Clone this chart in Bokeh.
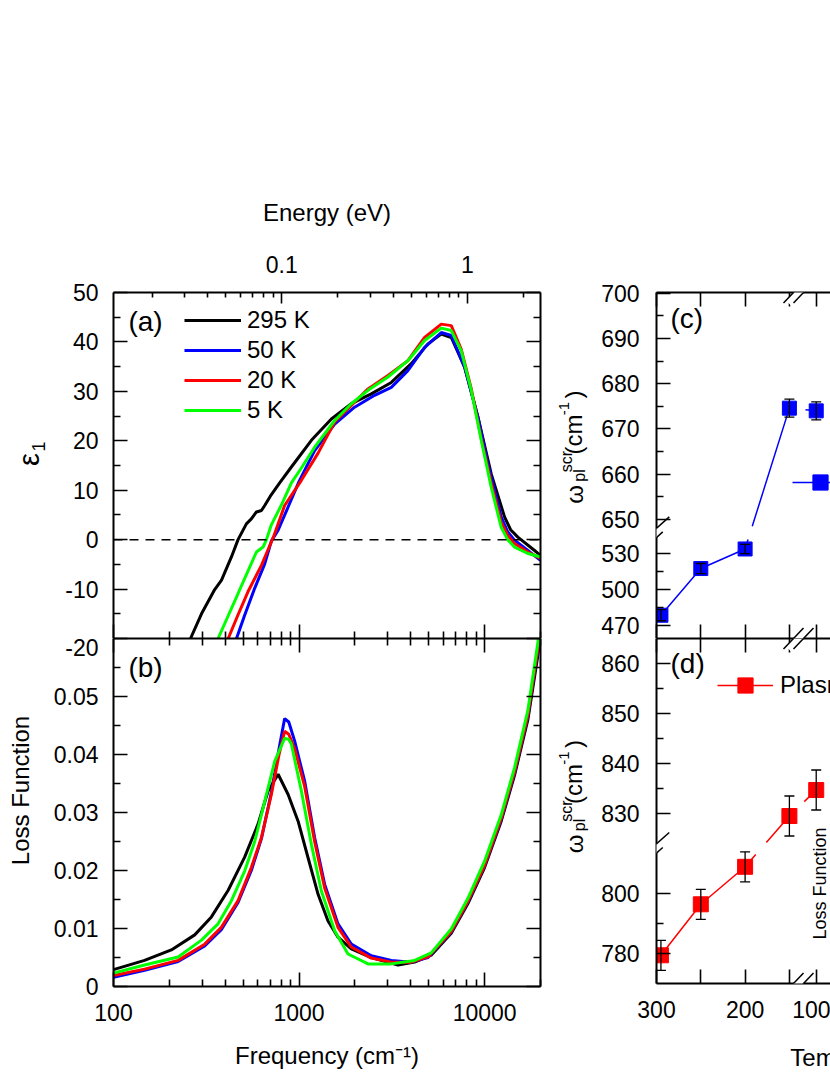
import math
from bokeh.plotting import figure
from bokeh.layouts import row, column
from bokeh.models import (Range1d, LogScale, LinearAxis, FixedTicker, Legend, LegendItem,
                          Span, Label, Arrow, Whisker, TeeHead, ColumnDataSource)
from bokeh.core.properties import value
from bokeh.embed import file_html
from bokeh.resources import INLINE

FONT = "Liberation Sans"
CM_PER_EV = 8065.54

# ---------------- data ----------------
series_labels = ["295 K", "50 K", "20 K", "5 K"]
series_colors = ["#000000", "#0000ff", "#ff0000", "#00ff00"]

# panel (a): epsilon_1 vs frequency (cm-1)
eps_freq_295 = [260, 298, 351, 382, 432, 469, 520, 553, 589, 627, 653, 700, 786, 909, 1165, 1493,
                1912, 2450, 3141, 4024, 4950, 5838, 6609, 7800, 9204, 10851, 12800, 13800, 15100, 18580, 20000]
eps_295 = [-20.0, -15.0, -10.1, -8.2, -3.5, 0.0, 3.2, 4.2, 5.6, 5.9, 6.9, 8.8, 11.5, 14.7, 20.1, 24.4,
           27.5, 29.5, 31.8, 35.6, 39.6, 41.6, 40.9, 34.9, 24.8, 13.3, 4.6, 2.0, 0.5, -2.2, -3.2]
eps_freq_50 = [460, 509, 577, 653, 709, 771, 873, 1000, 1213, 1555, 1991, 2553, 3141, 3858, 4748,
               5838, 6609, 7800, 9204, 10416, 12285, 13300, 14487, 17100, 20000]
eps_50 = [-20.0, -15.3, -9.8, -4.9, -0.3, 1.9, 6.6, 11.8, 18.0, 23.4, 26.8, 29.2, 30.8, 34.2, 38.9,
          41.9, 41.3, 34.9, 24.8, 15.4, 4.6, 1.6, -0.1, -2.2, -4.2]
eps_freq_20 = [415, 469, 531, 627, 681, 727, 836, 1029, 1266, 1555, 2352, 3013, 3858, 4748, 5838,
               6609, 7482, 8472, 9587, 10851, 12285, 13300, 14487, 17100, 20000]
eps_20 = [-20.0, -15.2, -10.5, -5.2, -2.0, 0.5, 6.9, 12.0, 17.5, 23.8, 30.5, 33.2, 36.2, 40.9, 43.6,
          43.3, 38.5, 30.5, 20.5, 11.5, 3.5, 0.9, -0.8, -2.5, -3.8]
eps_freq_5 = [366, 415, 469, 531, 589, 640, 667, 709, 803, 909, 1029, 1213, 1555, 1912, 2352, 3013,
              3858, 4748, 5838, 6609, 7482, 8472, 9587, 10851, 12285, 13300, 14487, 17100, 20000]
eps_5 = [-20.0, -15.4, -10.9, -6.3, -2.5, -1.5, 0.0, 3.0, 7.0, 11.5, 14.5, 18.7, 24.1, 27.5, 30.2,
         32.9, 36.2, 40.3, 42.8, 42.3, 38.2, 30.2, 20.1, 10.6, 2.5, 0.0, -1.5, -2.8, -3.5]

# panel (b): loss function vs frequency (cm-1)
lf_freq_295 = [100, 147, 205, 274, 337, 415, 509, 601, 681, 771, 873, 988, 1118, 1266, 1432, 1621,
               1912, 2450, 3415, 4195, 5153, 6609, 8128, 9990, 12285, 14487, 17100, 19300, 20000]
lf_295 = [0.0029, 0.0045, 0.0063, 0.0089, 0.0120, 0.0166, 0.0223, 0.0280, 0.0337, 0.0366, 0.0331,
          0.0285, 0.0222, 0.0159, 0.0113, 0.0085, 0.0065, 0.0050, 0.0037, 0.0042, 0.0054, 0.0092,
          0.0143, 0.0205, 0.0285, 0.0364, 0.0460, 0.0568, 0.0610]
lf_freq_50 = [100, 147, 223, 310, 381, 469, 553, 627, 709, 780, 836, 880, 947, 1072, 1213, 1374, 1621,
              1912, 2450, 3141, 4024, 4950, 6609, 8128, 9990, 12285, 14487, 17100, 19300, 20000]
lf_50 = [0.0016, 0.0028, 0.0043, 0.0070, 0.0098, 0.0145, 0.0200, 0.0255, 0.0335, 0.0410, 0.0462,
         0.0456, 0.0423, 0.0354, 0.0257, 0.0176, 0.0108, 0.0073, 0.0053, 0.0045, 0.0042, 0.0050,
         0.0094, 0.0146, 0.0208, 0.0288, 0.0368, 0.0466, 0.0577, 0.0617]
lf_freq_20 = [100, 147, 223, 310, 381, 469, 553, 627, 709, 780, 836, 880, 947, 1072, 1213, 1374, 1621,
              1912, 2450, 3141, 4024, 4950, 6609, 8128, 9990, 12285, 14487, 17100, 19300, 20000]
lf_20 = [0.0019, 0.0030, 0.0045, 0.0073, 0.0102, 0.0148, 0.0205, 0.0257, 0.0331, 0.0400, 0.0440,
         0.0435, 0.0410, 0.0345, 0.0250, 0.0170, 0.0102, 0.0068, 0.0049, 0.0042, 0.0042, 0.0051,
         0.0095, 0.0147, 0.0209, 0.0290, 0.0370, 0.0468, 0.0580, 0.0620]
lf_freq_5 = [100, 147, 223, 298, 366, 432, 509, 577, 653, 739, 836, 880, 909, 1029, 1165, 1318, 1555,
             1835, 2352, 3141, 4195, 5153, 6609, 8128, 9990, 12285, 14487, 17100, 19300, 20000]
lf_5 = [0.0023, 0.0037, 0.0051, 0.0080, 0.0108, 0.0148, 0.0199, 0.0250, 0.0319, 0.0388, 0.0428,
        0.0426, 0.0418, 0.0337, 0.0245, 0.0165, 0.0096, 0.0056, 0.0039, 0.0039, 0.0045, 0.0058,
        0.0099, 0.0152, 0.0216, 0.0296, 0.0377, 0.0476, 0.0590, 0.0630]

# panels (c), (d): screened plasma frequency vs temperature
temperature = [295, 250, 200, 150, 100]
wpl_eps = [478.4, 517.3, 533.6, 674.6, 674.0]
wpl_eps_err = [4.6, 4.2, 3.9, 2.0, 2.0]
wpl_loss = [779.4, 796.4, 808.9, 829.5, 834.7]
wpl_loss_err = [5.0, 5.0, 5.0, 4.0, 4.0]

# axis ticks
freq_major = [100, 1000, 10000]
freq_minor = [200, 300, 400, 500, 600, 700, 800, 900, 2000, 3000, 4000, 5000, 6000, 7000, 8000, 9000, 20000]
ev_major = [0.1, 1]
ev_minor = [0.02, 0.03, 0.04, 0.05, 0.06, 0.07, 0.08, 0.09, 0.2, 0.3, 0.4, 0.5, 0.6, 0.7, 0.8, 0.9, 2]
eps_major = [-20, -10, 0, 10, 20, 30, 40, 50]
eps_major_text = ["", "-10", "0", "10", "20", "30", "40", "50"]
eps_minor = [-15, -5, 5, 15, 25, 35, 45]
lf_major = [0, 0.01, 0.02, 0.03, 0.04, 0.05, 0.06]
lf_major_text = ["0", "0.01", "0.02", "0.03", "0.04", "0.05", "-20"]   # top tick shared with (a)'s -20
lf_minor = [0.005, 0.015, 0.025, 0.035, 0.045, 0.055]
t_major = [300, 250, 200, 150, 100]
t_major_text = ["300", "", "200", "", "100"]
c_major = [470, 500, 530, 650, 660, 670, 680, 690, 700]
c_minor = [485, 515, 655, 665, 675, 685, 695]
d_major = [780, 800, 830, 840, 850, 860]
d_minor = [790, 835, 845, 855]


# broken-axis mappings (value -> pixel-like coordinate)
def tx(t):
    return (300 - t) * 0.886 if t >= 130 else 142 + (120 - t) * 0.886


def ty_c(v):
    return (v - 459) * 1.2 if v <= 560 else 105.6 + (v - 647) * 4.52


def ty_d(v):
    return (v - 770) * 3.0 if v <= 819 else 135 + (v - 823) * 5.0


X_BREAK = 142.0
C_BREAK = 105.6
D_BREAK = 135.0
TOTAL_H = 1072


# ---------------- helpers ----------------
def base_fig(width, height, xr, yr, xlog, bl, br, bt, bb):
    p = figure(width=width, height=height, x_range=xr, y_range=yr,
               x_axis_type="log" if xlog else "linear",
               x_axis_location=None, y_axis_location=None,
               output_backend="svg", toolbar_location=None,
               min_border_left=bl, min_border_right=br, min_border_top=bt, min_border_bottom=bb)
    p.xgrid.grid_line_color = None
    p.ygrid.grid_line_color = None
    p.outline_line_color = None
    p.background_fill_color = "white"
    p.border_fill_color = "white"
    return p


def strip_fig(width, height):
    # plain text strip: data units equal pixels, y downwards
    return base_fig(width, height, Range1d(0, width), Range1d(height, 0), False, 0, 0, 0, 0)


def strip_text(p, xs, ys, texts, sizes, angle=0.0, align="center"):
    for x, y, t, s in zip(xs, ys, texts, sizes):
        p.text(x=[x], y=[y], text=[t], angle=angle, text_align=align, text_baseline="middle",
               text_font=value(FONT), text_font_size=value(s), text_color="black")


def make_axis(ticks, minor, texts=None, tick_in=14, minor_in=7, standoff=15,
              label=None, label_standoff=16, range_name=None):
    kw = {}
    if range_name:
        kw["x_range_name"] = range_name
    ax = LinearAxis(ticker=FixedTicker(ticks=ticks, minor_ticks=minor), **kw)
    ax.axis_line_width = 2
    ax.axis_line_color = "black"
    ax.major_tick_in = tick_in
    ax.major_tick_out = 0
    ax.minor_tick_in = minor_in
    ax.minor_tick_out = 0
    ax.major_tick_line_width = 1.6
    ax.minor_tick_line_width = 1.6
    ax.major_tick_line_color = "black"
    ax.minor_tick_line_color = "black"
    ax.major_label_text_font = FONT
    ax.major_label_text_color = "black"
    if texts is None:
        ax.major_label_text_font_size = "0px"
        ax.major_label_standoff = 0
        ax.major_label_overrides = {t: "" for t in ticks}
    else:
        ax.major_label_text_font_size = "23px"
        ax.major_label_standoff = standoff
        ax.major_label_overrides = {t: s for t, s in zip(ticks, texts)}
    if label:
        ax.axis_label = label
        ax.axis_label_text_font = FONT
        ax.axis_label_text_font_size = "24px"
        ax.axis_label_text_font_style = "normal"
        ax.axis_label_text_color = "black"
        ax.axis_label_standoff = label_standoff
    return ax


def add_label(p, x, y, text, size="24px", angle=0.0, align="left", baseline="middle"):
    p.add_layout(Label(x=x, y=y, text=text, angle=angle, text_align=align, text_baseline=baseline,
                       text_font=FONT, text_font_size=size, text_color="black"))


def make_legend(items, location, gw, gh, standoff):
    return Legend(items=items, location=location, padding=0, margin=0, spacing=0,
                  glyph_width=gw, glyph_height=gh, label_height=gh, label_standoff=standoff,
                  label_text_font=FONT, label_text_font_size="24px", label_text_color="black",
                  label_text_baseline="middle", border_line_color=None, background_fill_alpha=0)


def break_mark(p, cx, cy, horizontal):
    if horizontal:
        d = (10.0, 10.5)
        offs = [(-5.0, 0.0), (5.0, 0.0)]
    else:
        d = (9.5, 8.5)
        offs = [(-3.25, -7.5), (3.25, 7.5)]
    p.add_layout(Arrow(end=None, x_start=cx - d[0], y_start=cy - d[1], x_end=cx + d[0], y_end=cy + d[1],
                       line_color="white", line_width=7, level="overlay"))
    for ox, oy in offs:
        p.add_layout(Arrow(end=None, x_start=cx + ox - d[0], y_start=cy + oy - d[1],
                           x_end=cx + ox + d[0], y_end=cy + oy + d[1],
                           line_color="black", line_width=1.5, level="overlay"))


def broken_pieces(ws, us, wb, ub, gap=7.0):
    pieces_x, pieces_y = [], []
    cx, cy = [ws[0]], [us[0]]
    for i in range(len(ws) - 1):
        x0, y0, x1, y1 = ws[i], us[i], ws[i + 1], us[i + 1]
        length = math.hypot(x1 - x0, y1 - y0)
        cuts = []
        if (y0 - ub) * (y1 - ub) < 0:
            cuts.append((ub - y0) / (y1 - y0))
        if (x0 - wb) * (x1 - wb) < 0:
            cuts.append((wb - x0) / (x1 - x0))
        for t in sorted(cuts):
            dt = gap / length
            ta, tb = max(t - dt, 0), min(t + dt, 1)
            cx.append(x0 + ta * (x1 - x0)); cy.append(y0 + ta * (y1 - y0))
            pieces_x.append(cx); pieces_y.append(cy)
            cx, cy = [x0 + tb * (x1 - x0)], [y0 + tb * (y1 - y0)]
        cx.append(x1); cy.append(y1)
    pieces_x.append(cx); pieces_y.append(cy)
    return pieces_x, pieces_y


def omega_label(p, x0, y0):
    a = math.pi / 2
    strip_text(p,
               [x0, x0 + 5, x0 - 8, x0 - 1, x0 - 11, x0 - 1],
               [y0, y0 - 19, y0 - 33, y0 - 60, y0 - 86, y0 - 100],
               ["ω", "pl", "scr", "(cm", "-1", ")"],
               ["24px", "16px", "16px", "24px", "15px", "24px"], angle=a)


# ---------------- left text strip (y-axis titles of a, b) ----------------
sl = strip_fig(50, TOTAL_H)
strip_text(sl, [28], [459], ["ε"], ["29px"], angle=math.pi / 2)
strip_text(sl, [38], [446], ["1"], ["18px"], angle=math.pi / 2)
strip_text(sl, [20], [790], ["Loss Function"], ["24px"], angle=math.pi / 2)

# ---------------- panel (a) ----------------
fa = base_fig(495, 638, Range1d(100, 20000), Range1d(-20, 50), True, 62, 5, 292, 0)
fa.extra_x_ranges = {"energy": Range1d(100 / CM_PER_EV, 20000 / CM_PER_EV)}
fa.extra_x_scales = {"energy": LogScale()}
fa.add_layout(make_axis(eps_major, eps_minor, eps_major_text), "left")
fa.add_layout(make_axis(eps_major, eps_minor), "right")
fa.add_layout(make_axis(freq_major, freq_minor), "below")
fa.add_layout(make_axis(ev_major, ev_minor, ["0.1", "1"], tick_in=11, minor_in=5, standoff=20,
                        label="Energy (eV)", label_standoff=27, range_name="energy"), "above")
fa.add_layout(Span(location=0, dimension="width", line_color="black", line_width=1.5, line_dash="9 7"))

eps_sets = [(eps_freq_295, eps_295), (eps_freq_50, eps_50), (eps_freq_20, eps_20), (eps_freq_5, eps_5)]
eps_rs = [fa.line(f, v, line_color=c, line_width=3) for (f, v), c in zip(eps_sets, series_colors)]
fa.add_layout(make_legend([LegendItem(label=l, renderers=[r]) for l, r in zip(series_labels, eps_rs)],
                          (71, 213), 57, 30, 6))
add_label(fa, 120.4, 44.1, "(a)", "28px")

# ---------------- panel (b) ----------------
fb = base_fig(495, 434, Range1d(100, 20000), Range1d(0, 0.06), True, 62, 5, 0, 86)
fb.add_layout(make_axis(lf_major, lf_minor, lf_major_text), "left")
fb.add_layout(make_axis(lf_major, lf_minor), "right")
fb.add_layout(make_axis(freq_major, freq_minor), "above")
fb.add_layout(make_axis(freq_major, freq_minor, ["100", "1000", "10000"], standoff=17,
                        label="Frequency (cm⁻¹)", label_standoff=18), "below")
lf_sets = [(lf_freq_295, lf_295), (lf_freq_50, lf_50), (lf_freq_20, lf_20), (lf_freq_5, lf_5)]
for (f, v), c in zip(lf_sets, series_colors):
    fb.line(f, v, line_color=c, line_width=3)
add_label(fb, 120.4, 0.055, "(b)", "28px")

# ---------------- right text strip (y-axis titles of c, d) ----------------
sr = strip_fig(47, TOTAL_H)
omega_label(sr, 29, 494)
omega_label(sr, 29, 843.5)

# ---------------- panel (c) ----------------
fc = base_fig(238, 638, Range1d(0, 174), Range1d(0, 346), False, 64, 0, 292, 0)
fc.add_layout(make_axis([ty_c(v) for v in c_major], [ty_c(v) for v in c_minor],
                        [str(v) for v in c_major], standoff=17), "left")
fc.add_layout(make_axis([tx(t) for t in t_major], []), "above")
fc.add_layout(make_axis([tx(t) for t in t_major], []), "below")

wc = [tx(t) for t in temperature]
uc = [ty_c(v) for v in wpl_eps]
px, py = broken_pieces(wc, uc, X_BREAK, C_BREAK, gap=7.0)
lc = fc.multi_line(px, py, line_color="#0000ff", line_width=1.5)
src_c = ColumnDataSource(dict(w=wc, u=uc,
                              hi=[ty_c(v + e) for v, e in zip(wpl_eps, wpl_eps_err)],
                              lo=[ty_c(v - e) for v, e in zip(wpl_eps, wpl_eps_err)]))
sc = fc.scatter("w", "u", source=src_c, marker="square", size=14, fill_color="#0000ff", line_color="#0000ff")
fc.add_layout(Whisker(source=src_c, base="w", upper="hi", lower="lo", dimension="height", level="overlay",
                      line_color="black", line_width=1.3,
                      upper_head=TeeHead(size=10, line_color="black", line_width=1.3),
                      lower_head=TeeHead(size=10, line_color="black", line_width=1.3)))
fc.add_layout(make_legend([LegendItem(label="ε₁ = 0", renderers=[lc, sc])], (136, 137), 56, 38, 7))
add_label(fc, 14, 320, "(c)", "28px")
break_mark(fc, 0, C_BREAK, False)
break_mark(fc, X_BREAK, 346, True)
break_mark(fc, X_BREAK, 0, True)

# ---------------- panel (d) ----------------
fd = base_fig(238, 397, Range1d(0, 174), Range1d(0, 345), False, 64, 0, 0, 52)
fd.add_layout(make_axis([ty_d(v) for v in d_major], [ty_d(v) for v in d_minor],
                        [str(v) for v in d_major], standoff=17), "left")
fd.add_layout(make_axis([tx(t) for t in t_major], []), "above")
fd.add_layout(make_axis([tx(t) for t in t_major], [], t_major_text, standoff=17), "below")

wd = [tx(t) for t in temperature]
ud = [ty_d(v) for v in wpl_loss]
px, py = broken_pieces(wd, ud, X_BREAK, D_BREAK, gap=8.0)
ld = fd.multi_line(px, py, line_color="#ff0000", line_width=1.5)
src_d = ColumnDataSource(dict(w=wd, u=ud,
                              hi=[ty_d(v + e) for v, e in zip(wpl_loss, wpl_loss_err)],
                              lo=[ty_d(v - e) for v, e in zip(wpl_loss, wpl_loss_err)]))
sd = fd.scatter("w", "u", source=src_d, marker="square", size=15, fill_color="#ff0000", line_color="#ff0000")
fd.add_layout(Whisker(source=src_d, base="w", upper="hi", lower="lo", dimension="height", level="overlay",
                      line_color="black", line_width=1.3,
                      upper_head=TeeHead(size=10, line_color="black", line_width=1.3),
                      lower_head=TeeHead(size=10, line_color="black", line_width=1.3)))
fd.add_layout(make_legend([LegendItem(label="Plasma frequency", renderers=[ld, sd])], (61, 279), 56, 38, 7))
add_label(fd, 14, 320.3, "(d)", "28px")
add_label(fd, 163, 100, "Loss Function", "18px", math.pi / 2, "center")
break_mark(fd, 0, D_BREAK, False)
break_mark(fd, X_BREAK, 345, True)
break_mark(fd, X_BREAK, 0, True)

# ---------------- bottom strip under (d): x-axis title ----------------
st = strip_fig(238, TOTAL_H - 638 - 397)
strip_text(st, [183], [22], ["Temperature (K)"], ["24px"], align="left")

layout = row(sl, column(fa, fb), sr, column(fc, fd, st))
open("out.html", "w").write(file_html(layout, INLINE))
